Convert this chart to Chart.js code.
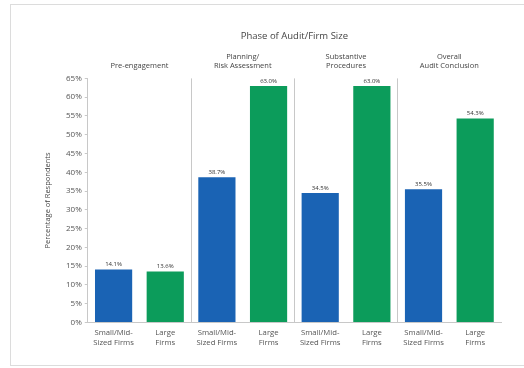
<!DOCTYPE html>
<html>
<head>
<meta charset="utf-8">
<script src="https://cdn.jsdelivr.net/npm/chart.js@4.4.1/dist/chart.umd.min.js"></script>
<style>
  html, body { margin: 0; padding: 0; background: #fff; }
  #wrap { position: relative; width: 524px; height: 368px; overflow: hidden; }
  #frame { position: absolute; left: 10px; top: 4px; width: 530px; height: 362px; border: 1px solid #dcdcdc; box-sizing: border-box; }
  #c { position: absolute; left: 0; top: 0; }
</style>
</head>
<body>
<div id="wrap">
  <div id="frame"></div>
  <canvas id="c" width="524" height="368"></canvas>
</div>
<script>
const phases = ['Pre-engagement', ['Planning/', 'Risk Assessment'], ['Substantive', 'Procedures'], ['Overall', 'Audit Conclusion']];
const firmTypes = [['Small/Mid-', 'Sized Firms'], ['Large', 'Firms']];
const smallMidValues = [14.1, 38.7, 34.5, 35.5];
const largeValues = [13.6, 63.0, 63.0, 54.3];
const yTicksMax = 65;
const yTickStep = 5;

const blue = '#1a63b4';
const green = '#0c9c5b';

const categories = [];
const values = [];
const colors = [];
phases.forEach((p, i) => {
  categories.push(firmTypes[0]); values.push(smallMidValues[i]); colors.push(blue);
  categories.push(firmTypes[1]); values.push(largeValues[i]); colors.push(green);
});

const FONT = '"Open Sans", "DejaVu Sans", sans-serif';

const valueLabels = {
  id: 'valueLabels',
  afterDatasetsDraw(chart) {
    const ctx = chart.ctx;
    const meta = chart.getDatasetMeta(0);
    ctx.save();
    ctx.font = '6px ' + FONT;
    ctx.fillStyle = '#333';
    ctx.textAlign = 'center';
    ctx.textBaseline = 'bottom';
    meta.data.forEach((bar, i) => {
      ctx.fillText(values[i].toFixed(1) + '%', bar.x, bar.y - 2);
    });
    ctx.restore();
  }
};

new Chart(document.getElementById('c'), {
  type: 'bar',
  data: {
    labels: categories,
    datasets: [{
      data: values,
      backgroundColor: colors,
      borderWidth: 0,
      barPercentage: 0.72,
      categoryPercentage: 1.0,
      xAxisID: 'x',
      yAxisID: 'y'
    }]
  },
  options: {
    responsive: false,
    animation: false,
    devicePixelRatio: 1,
    layout: { padding: { left: 43, right: 23, top: 31, bottom: 15 } },
    plugins: {
      legend: { display: false },
      tooltip: { enabled: false },
      title: { display: false }
    },
    scales: {
      x: {
        type: 'category',
        position: 'bottom',
        offset: true,
        grid: {
          offset: true,
          drawTicks: false,
          lineWidth: 1,
          color: (c) => (c.index > 0 && c.index % 2 === 0) ? '#c8c8c8' : 'rgba(0,0,0,0)'
        },
        border: { display: true, color: '#c8c8c8' },
        ticks: { font: { family: FONT, size: 7.7 }, color: '#555', padding: 6, maxRotation: 0, autoSkip: false }
      },
      x2: {
        type: 'category',
        position: 'top',
        labels: phases,
        offset: true,
        grid: { display: false, drawTicks: false },
        border: { display: false },
        ticks: { font: { family: FONT, size: 7.5 }, color: '#444', padding: 8, maxRotation: 0, autoSkip: false },
        title: { display: true, text: 'Phase of Audit/Firm Size', font: { family: FONT, size: 9.5 }, color: '#444', padding: { top: 0, bottom: 2 } }
      },
      y: {
        min: 0,
        max: yTicksMax,
        ticks: { stepSize: yTickStep, font: { family: FONT, size: 8 }, color: '#555', padding: 3, callback: v => v + '%' },
        grid: { drawOnChartArea: false, drawTicks: true, tickLength: 3, color: '#c8c8c8' },
        border: { display: true, color: '#c8c8c8' },
        title: { display: true, text: 'Percentage of Respondents', font: { family: FONT, size: 7.5 }, color: '#444', padding: { top: 0, bottom: 11 } }
      }
    }
  },
  plugins: [valueLabels]
});
</script>
</body>
</html>
